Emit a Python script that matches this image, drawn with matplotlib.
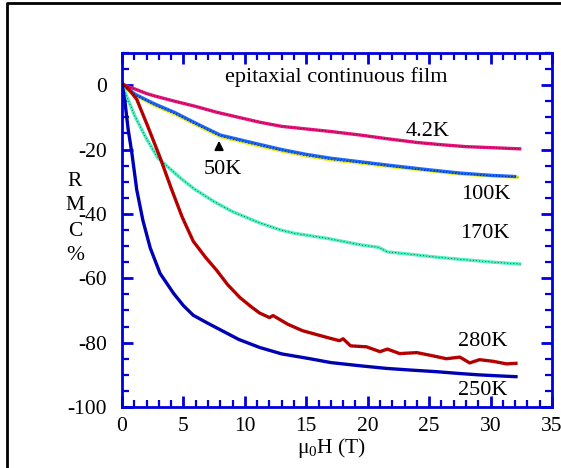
import matplotlib
matplotlib.use("Agg")
import matplotlib.pyplot as plt
from matplotlib.lines import Line2D
from matplotlib.ticker import MultipleLocator

plt.rcParams['font.family'] = ['Liberation Serif', 'DejaVu Serif']
plt.rcParams['mathtext.fontset'] = 'custom'
plt.rcParams['mathtext.rm'] = 'Liberation Serif'
plt.rcParams['mathtext.default'] = 'regular'
plt.rcParams['axes.unicode_minus'] = False

# ---- data ----
x_42K = [0, 0.5, 1.06, 2, 2.7, 4.3, 5.9, 7.7, 9.5, 11.2, 13, 15, 17, 19.4, 21.5, 24, 26, 28, 30, 32.5]
y_42K = [0.5, -0.5, -1.2, -2.6, -3.4, -5, -6.5, -8.4, -10, -11.5, -12.8, -13.6, -14.4, -15.5, -16.6, -17.8, -18.5, -19.1, -19.4, -19.8]

x_50K = [0, 0.5, 1.06, 2, 2.7, 4.3, 5.9, 8, 11.2, 13, 15, 17, 19.4, 22, 25, 27.5, 30, 32.3]
y_50K = [0.3, -1.6, -3.2, -5.0, -6.4, -9.0, -12.1, -16.0, -18.9, -20.5, -22.0, -23.2, -24.2, -25.4, -26.6, -27.6, -28.2, -28.6]

x_100K = [0, 0.5, 1.06, 2, 2.7, 4.3, 5.9, 8, 11.2, 13, 15, 17, 19.4, 22, 25, 27.5, 30, 32.1]
y_100K = [0.5, -1.2, -2.8, -4.6, -5.9, -8.5, -11.6, -15.5, -18.4, -20, -21.5, -22.7, -23.8, -25.0, -26.3, -27.3, -28.0, -28.4]

x_170K = [0, 0.25, 0.6, 1.06, 1.9, 2.9, 3.7, 4.8, 5.9, 7.5, 9, 11.2, 12.9, 14, 16.7, 19.4, 20.9, 21.6, 23.4, 25.5, 27.5, 30.2, 32.5]
y_170K = [0.5, -2.2, -5.5, -9.7, -16, -22.5, -25.3, -29, -32.3, -36.2, -39.3, -42.8, -45, -46, -47.6, -49.6, -50.4, -51.8, -52.5, -53.4, -54.1, -55, -55.6]

x_280K = [0, 0.5, 1.2, 2.1, 3.1, 4, 4.9, 5.8, 6.8, 7.7, 8.6, 9.6, 10.5, 11.2, 12, 12.3, 13.5, 14.7, 16.7, 17.7, 18, 18.6, 19.9, 21, 21.6, 22.6, 24, 25.3, 26.4, 27.5, 28.3, 29.1, 30.2, 31.3, 32.2]
y_280K = [0.5, -1, -4.4, -12.8, -22.5, -32, -41, -48.5, -53.5, -57.5, -62, -66, -68.8, -70.8, -72.2, -71.6, -74.3, -76.3, -78.4, -79.4, -78.8, -81, -81.3, -82.8, -82, -83.4, -83.1, -84.1, -85, -84.5, -86.3, -85.3, -85.8, -86.6, -86.4]

x_250K = [0, 0.25, 0.5, 0.8, 1.2, 1.7, 2.3, 3.1, 4.2, 5, 5.8, 7, 8, 9.5, 11.2, 13, 15.3, 17, 19.4, 21.5, 23.4, 25.5, 27.5, 29, 30.5, 32.2]
y_250K = [0.5, -5.5, -13.7, -21, -32.5, -42, -50.6, -58.5, -64.7, -68.5, -71.5, -74, -76, -79, -81.5, -83.5, -85, -86.2, -87.2, -88, -88.5, -89, -89.6, -90, -90.3, -90.6]

series = [
    (x_50K, y_50K, '#eeee22'),
    (x_100K, y_100K, '#1f6bff'),
    (x_42K, y_42K, '#e8137a'),
    (x_170K, y_170K, '#4ff0c0'),
    (x_280K, y_280K, '#c00000'),
    (x_250K, y_250K, '#0000c0'),
]

labels = ['4.2K', '100K', '170K', '280K', '250K', '50K']
label_x = [24.9, 29.6, 29.5, 29.4, 29.4, 8.2]
label_y = [-14.4, -34.0, -46.0, -79.7, -95.0, -26.3]

W, H = 561, 468
fig = plt.figure(figsize=(W / 100, H / 100), dpi=100)
ax = fig.add_axes([122 / W, 1 - 407 / H, 430 / W, 354 / H])

for xs, ys, c in series:
    ax.plot(xs, ys, color=c, lw=2.4, solid_capstyle='butt', zorder=2)
    ax.plot(xs, ys, color='black', lw=0.5, ls=(0, (1.5, 3)), alpha=0.75, zorder=3)

ax.set_xlim(0, 35)
ax.set_ylim(-100, 10)
ax.xaxis.set_major_locator(MultipleLocator(5))
ax.xaxis.set_minor_locator(MultipleLocator(1))
ax.yaxis.set_major_locator(MultipleLocator(20))
ax.yaxis.set_minor_locator(MultipleLocator(5))

blue = '#0000dd'
for sp in ax.spines.values():
    sp.set_color(blue)
    sp.set_linewidth(2)
ax.tick_params(which='both', direction='in', top=True, right=True, color=blue,
               labelsize=15.5, labelcolor='black')
ax.tick_params(which='major', length=8, width=2, pad=7)
ax.tick_params(which='minor', length=5, width=1.6)
ax.tick_params(axis='y', which='major', pad=11)

ax.text(17.4, 2.5, 'epitaxial continuous film', fontsize=16, ha='center', va='center')
for t, lx, ly in zip(labels, label_x, label_y):
    ax.text(lx, ly, t, fontsize=16, ha='center', va='center')
ax.annotate('', xy=(7.9, -16.4), xytext=(7.9, -21.0),
            arrowprops=dict(arrowstyle='-|>', lw=1.4, color='black', mutation_scale=13))

# stacked y label
for ch, py in zip(['R', 'M', 'C', '%'], [182, 206, 232, 256]):
    fig.text(75 / W, 1 - py / H, ch, fontsize=15.5, ha='center', va='center')

fig.text(332 / W, 1 - 448 / H, 'μ$_0$H (T)', fontsize=15.5, ha='center', va='center')

# outer black frame (partially visible)
fig.add_artist(Line2D([6.5 / W, 6.5 / W, 1.0], [0, 1 - 2.5 / H, 1 - 2.5 / H],
                      transform=fig.transFigure, color='black', lw=2))

fig.savefig('out.png', dpi=100)
